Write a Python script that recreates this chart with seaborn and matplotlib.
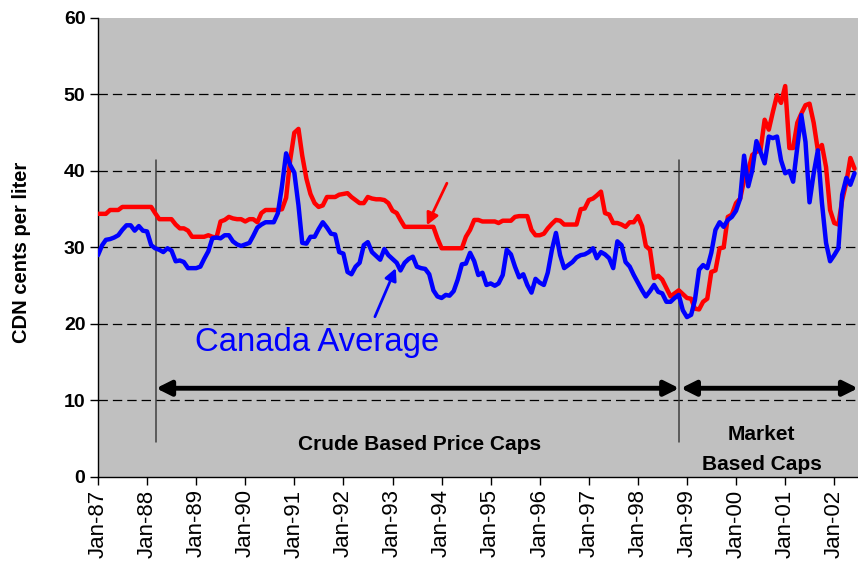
import numpy as np
import pandas as pd
import matplotlib
matplotlib.use("Agg")
import matplotlib.pyplot as plt
import matplotlib.dates as mdates
import seaborn as sns

# Monthly gasoline prices, Jan-1987 .. Jun-2002 (CDN cents per liter)
start_month = "1987-01-01"
n_months = 186

province_price = [
    34.4, 34.4, 34.4, 34.9, 34.9, 34.9, 35.3, 35.3, 35.3, 35.3, 35.3, 35.3,
    35.3, 35.3, 34.5, 33.7, 33.7, 33.7, 33.7, 33.0, 32.5, 32.5, 32.2, 31.4,
    31.4, 31.4, 31.4, 31.6, 31.4, 31.3, 33.4, 33.6, 34.0, 33.8, 33.7, 33.7,
    33.4, 33.7, 33.7, 33.3, 34.5, 34.9, 34.9, 34.9, 34.9, 35.0, 36.5, 41.4,
    45.0, 45.5, 42.0, 39.0, 37.0, 35.8, 35.3, 35.5, 36.6, 36.6, 36.6, 36.9,
    37.0, 37.1, 36.6, 36.2, 35.8, 35.8, 36.6, 36.4, 36.3, 36.3, 36.2, 35.8,
    34.8, 34.5, 33.6, 32.7, 32.7, 32.7, 32.7, 32.7, 32.7, 32.7, 32.7, 31.2,
    29.9, 29.9, 29.9, 29.9, 29.9, 29.9, 31.4, 32.3, 33.6, 33.6, 33.4, 33.4,
    33.4, 33.4, 33.2, 33.5, 33.5, 33.5, 34.0, 34.1, 34.1, 34.1, 32.3, 31.6,
    31.6, 31.8, 32.5, 33.1, 33.6, 33.5, 33.0, 33.0, 33.0, 33.0, 35.0, 35.1,
    36.2, 36.4, 36.8, 37.3, 34.5, 34.3, 33.2, 33.2, 33.0, 32.7, 33.3, 33.3,
    34.1, 32.8, 30.2, 29.7, 26.0, 26.3, 25.8, 24.7, 23.6, 24.0, 24.4, 23.9,
    23.4, 23.3, 22.0, 21.9, 22.9, 23.3, 26.8, 27.0, 29.9, 30.0, 34.0, 34.3,
    35.8, 36.4, 38.8, 40.1, 42.1, 42.5, 42.7, 46.7, 45.4, 47.7, 49.9, 48.9,
    51.1, 43.0, 43.0, 46.3, 47.5, 48.6, 48.8, 46.3, 42.7, 43.4, 40.5, 34.9,
    33.2, 33.0, 36.2, 38.5, 41.7, 40.3,
]

canada_average = [
    29.0, 30.3, 31.0, 31.1, 31.3, 31.6, 32.3, 32.9, 32.9, 32.2, 32.8, 32.2,
    32.1, 30.3, 29.9, 29.7, 29.4, 29.9, 29.6, 28.2, 28.3, 28.1, 27.3, 27.3,
    27.3, 27.5, 28.5, 29.5, 31.2, 31.3, 31.2, 31.6, 31.6, 30.8, 30.4, 30.2,
    30.4, 30.6, 31.5, 32.6, 33.0, 33.3, 33.3, 33.3, 34.5, 38.0, 42.3, 40.8,
    39.8, 35.5, 30.6, 30.5, 31.4, 31.4, 32.4, 33.3, 32.6, 31.8, 31.7, 29.4,
    29.2, 26.8, 26.5, 27.5, 28.0, 30.3, 30.7, 29.4, 28.9, 28.4, 29.8, 29.0,
    28.5, 28.0, 27.0, 28.0, 28.5, 28.8, 27.5, 27.3, 27.2, 26.5, 24.4, 23.6,
    23.4, 23.8, 23.7, 24.3, 25.8, 27.8, 27.9, 29.3, 28.2, 26.4, 26.7, 25.1,
    25.3, 25.0, 25.3, 26.4, 29.7, 29.1, 27.5, 26.1, 26.5, 25.1, 24.1, 25.9,
    25.4, 25.1, 26.7, 29.7, 31.9, 29.0, 27.3, 27.7, 28.1, 28.7, 29.0, 29.1,
    29.4, 29.9, 28.6, 29.4, 29.1, 28.6, 27.3, 30.8, 30.3, 28.1, 27.5, 26.4,
    25.4, 24.4, 23.6, 24.3, 25.1, 24.2, 24.0, 22.9, 22.9, 23.4, 23.8, 21.8,
    20.9, 21.2, 23.1, 27.1, 27.7, 27.3, 29.3, 32.3, 33.3, 32.7, 33.6, 34.0,
    34.8, 36.4, 42.0, 38.0, 40.1, 43.9, 42.5, 41.0, 44.5, 44.3, 44.5, 41.4,
    39.7, 40.0, 38.6, 43.1, 47.3, 43.8, 35.9, 39.7, 42.7, 35.9, 30.6, 28.2,
    29.0, 29.9, 36.9, 39.1, 38.2, 39.7,
]

tick_years = list(range(1987, 2003))
y_ticks = [0, 10, 20, 30, 40, 50, 60]

dates = pd.date_range(start_month, periods=n_months, freq="MS")
df = pd.DataFrame({
    "date": np.concatenate([dates, dates]),
    "price": province_price + canada_average,
    "series": ["Province"] * n_months + ["Canada Average"] * n_months,
})

sns.set_style("white")
plt.rcParams["font.family"] = ["Liberation Sans", "DejaVu Sans"]
plt.rcParams.update({"text.color": "black", "axes.labelcolor": "black",
                     "xtick.color": "black", "ytick.color": "black"})

fig = plt.figure(figsize=(8.58, 5.69), dpi=100)
ax = fig.add_axes([0.1142, 0.1617, 0.8858, 0.8067])
ax.set_facecolor("#C0C0C0")

# horizontal dashed grid
for v in [10, 20, 30, 40, 50]:
    ax.axhline(v, color="black", lw=0.9, ls=(0, (7.5, 4)), zorder=1)

sns.lineplot(data=df, x="date", y="price", hue="series",
             palette={"Province": "#FF0000", "Canada Average": "#0000FF"},
             hue_order=["Province", "Canada Average"],
             linewidth=3.2, legend=False, ax=ax, zorder=3)

t0 = mdates.date2num(pd.Timestamp(start_month))


def mpos(m):
    """Date-axis position of month offset m from Jan-87."""
    return t0 + m * 30.44


ax.set_xlim(t0, mpos(185.8))
ax.set_ylim(0, 60)

# regime boundaries
for m in (14.2, 142.1):
    ax.plot([mpos(m), mpos(m)], [4.6, 41.4], color="#404040", lw=1.1, zorder=2)

# period arrows
arrow_kw = dict(arrowstyle="<|-|>", color="black", lw=3.5,
                mutation_scale=22, shrinkA=0, shrinkB=0)
ax.annotate("", xy=(mpos(14.2), 11.6), xytext=(mpos(142.1), 11.6),
            arrowprops=arrow_kw, zorder=4)
ax.annotate("", xy=(mpos(142.5), 11.6), xytext=(mpos(185.8), 11.6),
            arrowprops=arrow_kw, zorder=4, annotation_clip=False)

# pointer arrows
ax.annotate("", xy=(mpos(80.4), 32.9), xytext=(mpos(85.3), 38.4),
            arrowprops=dict(arrowstyle="-|>", color="#FF0000", lw=2,
                            mutation_scale=18, shrinkA=0, shrinkB=0), zorder=4)
ax.annotate("", xy=(mpos(72.8), 27.3), xytext=(mpos(67.7), 20.95),
            arrowprops=dict(arrowstyle="-|>", color="#0000FF", lw=2,
                            mutation_scale=18, shrinkA=0, shrinkB=0), zorder=4)

ax.text(mpos(23.7), 16.5, "Canada Average", color="#0000FF", fontsize=23.7,
        ha="left", va="baseline", zorder=5)
ax.text(mpos(78.6), 3.5, "Crude Based Price Caps", fontsize=15,
        fontweight="bold", ha="center", va="baseline", zorder=5)
ax.text(mpos(162.3), 4.8, "Market", fontsize=15, fontweight="bold",
        ha="center", va="baseline", zorder=5)
ax.text(mpos(162.3), 0.9, "Based Caps", fontsize=15, fontweight="bold",
        ha="center", va="baseline", zorder=5)

# axes styling
for side in ("top", "right"):
    ax.spines[side].set_visible(False)
for side in ("left", "bottom"):
    ax.spines[side].set_color("black")
    ax.spines[side].set_linewidth(1.0)

ax.set_yticks(y_ticks)
ax.set_yticklabels([str(v) for v in y_ticks], fontsize=14, fontweight="bold")
xt = [mdates.date2num(pd.Timestamp(f"{y}-01-01")) for y in tick_years]
ax.set_xticks(xt)
ax.set_xticklabels([pd.Timestamp(f"{y}-01-01").strftime("%b-%y") for y in tick_years],
                   rotation=90, fontsize=16)
ax.tick_params(axis="both", direction="out", length=6, width=1, color="black",
               bottom=True, left=True, pad=3)
ax.set_xlabel("")
ax.set_ylabel("CDN cents per liter", fontsize=14.5, fontweight="bold")
ax.yaxis.set_label_coords(-0.088, 0.49)

fig.savefig("out.png", dpi=100, facecolor="white")
